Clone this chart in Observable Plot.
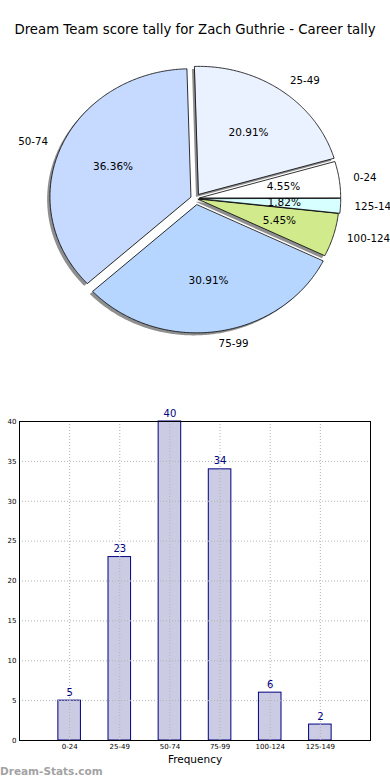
<!DOCTYPE html>
<html><head><meta charset="utf-8">
<script src="https://cdn.jsdelivr.net/npm/d3@7"></script>
<script src="https://cdn.jsdelivr.net/npm/@observablehq/plot@0.6"></script>
<style>
body{margin:0;background:#fff;font-family:"DejaVu Sans",sans-serif;}
#wrap{position:relative;width:390px;height:780px;overflow:hidden;background:#fff;}
#title{position:absolute;left:0;top:22px;width:390px;text-align:center;font-size:13.3px;line-height:16px;color:#000;}
#pie{position:absolute;left:0;top:0;}
#bar{position:absolute;left:0;top:400px;}
#mark{position:absolute;left:0;top:764px;font-size:10.5px;line-height:14px;font-weight:bold;color:#a3a3a3;}
</style></head><body>
<div id="wrap"><div id="pie"></div><div id="title">Dream Team score tally for Zach Guthrie - Career tally</div><div id="bar"></div><div id="mark">Dream-Stats.com</div></div>
<script>
// data
const categories = ["0-24", "25-49", "50-74", "75-99", "100-124", "125-149"];
const counts = [5, 23, 40, 34, 6, 2];
const xLabel = "Frequency";
const yTicks = [0, 5, 10, 15, 20, 25, 30, 35, 40];

// styles
const sliceColors = ["#ffffff", "#eaf1ff", "#c6d9ff", "#b6d5ff", "#d0ea8c", "#d8ffff"];
const explode = [0.03, 0.04, 0.035, 0.05, 0.02, 0.03];
const font = "DejaVu Sans";

// pie geometry table (unit circle, start angle 0, counterclockwise)
const total = d3.sum(counts);
let acc = 0;
const slices = counts.map((v, i) => {
  const a0 = acc / total * 2 * Math.PI; acc += v;
  const a1 = acc / total * 2 * Math.PI;
  const am = (a0 + a1) / 2;
  return {i, cat: categories[i], v, a0, a1, am,
    ox: explode[i] * Math.cos(am), oy: explode[i] * Math.sin(am),
    pct: (100 * v / total).toFixed(2) + "%"};
});
function wedgePts(s, dx = 0, dy = 0) {
  const pts = [{x: s.ox + dx, y: s.oy + dy, k: s.i}];
  const n = Math.max(8, Math.ceil((s.a1 - s.a0) / 0.01));
  for (let j = 0; j <= n; j++) {
    const a = s.a0 + (s.a1 - s.a0) * j / n;
    pts.push({x: s.ox + dx + Math.cos(a), y: s.oy + dy + Math.sin(a), k: s.i});
  }
  return pts;
}
const W = 390, H = 370, cx = 195, cy = 198, rx = 141, ry = 128;
const pie = Plot.plot({
  width: W, height: H, margin: 0,
  style: {fontFamily: font, background: "transparent"},
  x: {domain: [-cx / rx, (W - cx) / rx], axis: null},
  y: {domain: [-(H - cy) / ry, cy / ry], axis: null},
  marks: [
    Plot.line(slices.flatMap(s => wedgePts(s, -0.02, -0.02)),
      {x: "x", y: "y", z: "k", curve: "linear-closed", fill: "#333", fillOpacity: 0.55, stroke: "none"}),
    ...slices.map(s => Plot.line(wedgePts(s),
      {x: "x", y: "y", curve: "linear-closed", fill: sliceColors[s.i], stroke: "#000", strokeWidth: 0.8})),
    Plot.text(slices.filter(s => Math.cos(s.am) >= 0), {
      x: s => s.ox + 1.1 * Math.cos(s.am), y: s => s.oy + 1.1 * Math.sin(s.am),
      text: "cat", textAnchor: "start", fontSize: 10.3, fill: "#000"}),
    Plot.text(slices.filter(s => Math.cos(s.am) < 0), {
      x: s => s.ox + 1.1 * Math.cos(s.am), y: s => s.oy + 1.1 * Math.sin(s.am),
      text: "cat", textAnchor: "end", fontSize: 10.3, fill: "#000"}),
    Plot.text(slices, {
      x: s => s.ox + 0.6 * Math.cos(s.am), y: s => s.oy + 0.6 * Math.sin(s.am),
      text: "pct", fontSize: 10.5, fill: "#000"})
  ]
});
document.getElementById("pie").appendChild(pie);

// bar chart
const bars = counts.map((v, i) => ({i, v}));
const grid = {stroke: "#b3b3b3", strokeOpacity: 1, strokeDasharray: "1,2", strokeWidth: 1};
const bar = Plot.plot({
  width: 390, height: 380,
  marginLeft: 19, marginRight: 20, marginTop: 21, marginBottom: 40,
  style: {fontFamily: font, background: "transparent", color: "#000"},
  x: {domain: [-1, categories.length], axis: null},
  y: {domain: [0, 40], axis: null},
  marks: [
    Plot.rectY(bars, {x1: d => d.i - 0.225, x2: d => d.i + 0.225, y1: 0, y2: "v",
      fill: "#cbcbe4", stroke: "#000080", strokeWidth: 1}),
    Plot.gridX(d3.range(categories.length), grid),
    Plot.gridY(yTicks.filter(t => t > 0 && t < 40), grid),
    Plot.text(bars, {x: "i", y: "v", text: d => String(d.v), dy: -5, lineAnchor: "bottom",
      fill: "#000080", fontSize: 10}),
    Plot.frame({stroke: "#000", strokeWidth: 1}),
    Plot.axisX(d3.range(categories.length), {tickSize: 0, tickPadding: 4,
      tickFormat: i => categories[i], fontSize: 7, label: null}),
    Plot.axisY(yTicks, {tickSize: 0, tickPadding: 3, fontSize: 7, label: null}),
    Plot.text([xLabel], {frameAnchor: "bottom", dy: 22, fontSize: 10.5, fill: "#000"})
  ]
});
document.getElementById("bar").appendChild(bar);
</script>
</body></html>
